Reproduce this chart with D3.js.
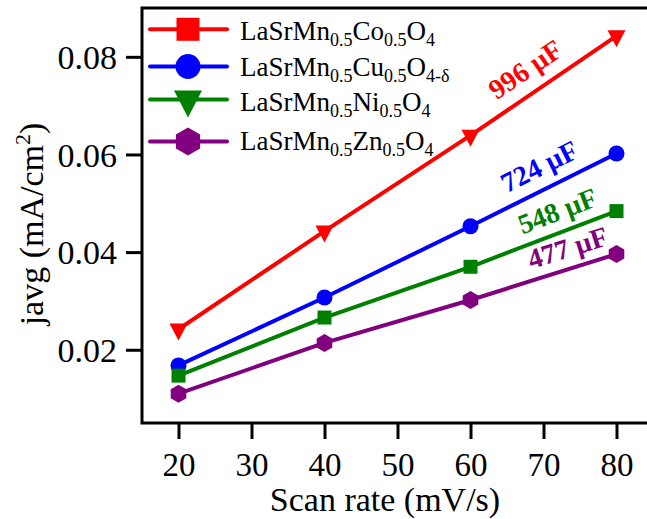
<!DOCTYPE html>
<html>
<head>
<meta charset="utf-8">
<script src="https://cdn.jsdelivr.net/npm/d3@7"></script>
<style>
  html, body { margin: 0; padding: 0; background: #fff; }
  svg { display: block; }
  text { font-family: "Liberation Serif", "Times New Roman", serif; }
</style>
</head>
<body>
<svg id="chart" width="647" height="519"></svg>
<script>
// ---------- data ----------
const scanRates = [20, 40, 60, 80];
const coValues = [0.0242, 0.0443, 0.0639, 0.0843];
const cuValues = [0.0168, 0.0307, 0.0453, 0.0602];
const niValues = [0.0147, 0.0266, 0.0370, 0.0484];
const znValues = [0.0110, 0.0214, 0.0302, 0.0396];
const seriesColors = ["#ff0000", "#0000ff", "#008000", "#800080"];
const capacitanceLabels = ["996 \u00b5F", "724 \u00b5F", "548 \u00b5F", "477 \u00b5F"];
const xTicks = [20, 30, 40, 50, 60, 70, 80];
const yTicks = [0.02, 0.04, 0.06, 0.08];
const legendLabels = [
  [["LaSrMn", ""], ["0.5", "sub"], ["Co", ""], ["0.5", "sub"], ["O", ""], ["4", "sub"]],
  [["LaSrMn", ""], ["0.5", "sub"], ["Cu", ""], ["0.5", "sub"], ["O", ""], ["4-\u03b4", "sub"]],
  [["LaSrMn", ""], ["0.5", "sub"], ["Ni", ""], ["0.5", "sub"], ["O", ""], ["4", "sub"]],
  [["LaSrMn", ""], ["0.5", "sub"], ["Zn", ""], ["0.5", "sub"], ["O", ""], ["4", "sub"]]
];
const xTitle = "Scan rate (mV/s)";

// ---------- marker shapes ----------
function trianglePath(w, h) { return `M${-w/2},${-h/3}L${w/2},${-h/3}L0,${2*h/3}Z`; }
function squarePath(s) { return `M${-s/2},${-s/2}h${s}v${s}h${-s}Z`; }
function circlePath(r) { return `M${r},0A${r},${r} 0 1,1 ${-r},0A${r},${r} 0 1,1 ${r},0Z`; }
function hexPath(r) {
  const pts = d3.range(6).map(k => { const a = (-90 + 60 * k) * Math.PI / 180; return [r * Math.cos(a), r * Math.sin(a)]; });
  return "M" + pts.map(p => p[0].toFixed(2) + "," + p[1].toFixed(2)).join("L") + "Z";
}
const plotMarkers = [trianglePath(18, 17), circlePath(8), squarePath(14), hexPath(9)];
const legendMarkers = [squarePath(23), circlePath(12.5), trianglePath(28, 27), hexPath(14)];

// ---------- layout ----------
const svg = d3.select("#chart");
const mLeft = 142, mRight = 653, mTop = 8, mBottom = 423;
const x = d3.scaleLinear().domain([15, 85]).range([mLeft, mRight]);
const y = d3.scaleLinear().domain([0.005, 0.09]).range([mBottom, mTop]);

const allSeries = [coValues, cuValues, niValues, znValues];
const fontFam = '"Liberation Serif", "Times New Roman", serif';

// ---------- axes ----------
const xAxis = d3.axisBottom(x).tickValues(xTicks).tickFormat(d3.format("d")).tickSize(16).tickSizeOuter(0);
const gx = svg.append("g").attr("transform", `translate(0,${mBottom})`).call(xAxis);
gx.select(".domain").remove();
gx.selectAll(".tick line").attr("stroke", "#000").attr("stroke-width", 3);
gx.selectAll(".tick text").attr("y", 53).attr("dy", 0).attr("font-size", 33)
  .attr("fill", "#000").style("font-family", fontFam);

const yAxis = d3.axisLeft(y).tickValues(yTicks).tickFormat(d3.format(".2f")).tickSize(16).tickSizeOuter(0);
const gy = svg.append("g").attr("transform", `translate(${mLeft},0)`).call(yAxis);
gy.select(".domain").remove();
gy.selectAll(".tick line").attr("stroke", "#000").attr("stroke-width", 3);
gy.selectAll(".tick text").attr("x", -25).attr("dy", "0.34em").attr("font-size", 34)
  .attr("fill", "#000").style("font-family", fontFam);

// frame
svg.append("rect").attr("x", mLeft).attr("y", mTop).attr("width", mRight - mLeft).attr("height", mBottom - mTop)
  .attr("fill", "none").attr("stroke", "#000").attr("stroke-width", 3);

// axis titles
svg.append("text").attr("x", 385).attr("y", 511).attr("text-anchor", "middle")
  .attr("font-size", 34).attr("fill", "#000").text(xTitle);

const yt = svg.append("text").attr("transform", "translate(43,224) rotate(-90)")
  .attr("text-anchor", "middle").attr("font-size", 34).attr("fill", "#000");
yt.append("tspan").text("javg (mA/cm");
yt.append("tspan").attr("font-size", 22).attr("dy", -13).text("2");
yt.append("tspan").attr("dy", 13).text(")");

// ---------- series ----------
const line = d3.line().x((d, i) => x(scanRates[i])).y(d => y(d));
allSeries.forEach((vals, s) => {
  const g = svg.append("g");
  g.append("path").datum(vals).attr("d", line).attr("fill", "none")
    .attr("stroke", seriesColors[s]).attr("stroke-width", 4);
  g.selectAll("path.marker").data(vals).join("path").attr("class", "marker")
    .attr("d", plotMarkers[s])
    .attr("transform", (d, i) => `translate(${x(scanRates[i])},${y(d)})`)
    .attr("fill", seriesColors[s]);
});

// ---------- capacitance annotations ----------
const annAt = [67.5, 69.4, 71.9, 73.3];
const annOffset = [29, 26, 23, 22];
allSeries.forEach((vals, s) => {
  const x0 = x(scanRates[2]), y0 = y(vals[2]), x1 = x(scanRates[3]), y1 = y(vals[3]);
  const px = x(annAt[s]);
  const py = y0 + (y1 - y0) * (px - x0) / (x1 - x0) - annOffset[s];
  const ang = Math.atan2(y1 - y0, x1 - x0) * 180 / Math.PI;
  svg.append("text").attr("transform", `translate(${px},${py}) rotate(${ang})`)
    .attr("text-anchor", "middle").attr("dy", "0.35em")
    .attr("font-size", 28).attr("font-weight", "bold").attr("fill", seriesColors[s])
    .text(capacitanceLabels[s]);
});

// ---------- legend ----------
const legendRowY = [29.3, 66.5, 99.5, 141.5];
const legendBaseY = [39.5, 76, 110.5, 149.5];
legendLabels.forEach((segs, s) => {
  const g = svg.append("g");
  g.append("line").attr("x1", 150).attr("x2", 227).attr("y1", legendRowY[s]).attr("y2", legendRowY[s])
    .attr("stroke", seriesColors[s]).attr("stroke-width", 4).attr("stroke-linecap", "round");
  g.append("path").attr("d", legendMarkers[s]).attr("transform", `translate(188,${legendRowY[s]})`)
    .attr("fill", seriesColors[s]);
  const t = g.append("text").attr("x", 240).attr("y", legendBaseY[s]).attr("font-size", 27).attr("fill", "#000");
  let shifted = false;
  segs.forEach(([str, kind]) => {
    const ts = t.append("tspan").text(str);
    if (kind === "sub") {
      ts.attr("font-size", 18);
      if (!shifted) { ts.attr("dy", 6); shifted = true; }
    } else {
      ts.attr("font-size", 27);
      if (shifted) { ts.attr("dy", -6); shifted = false; }
    }
  });
});
</script>
</body>
</html>
